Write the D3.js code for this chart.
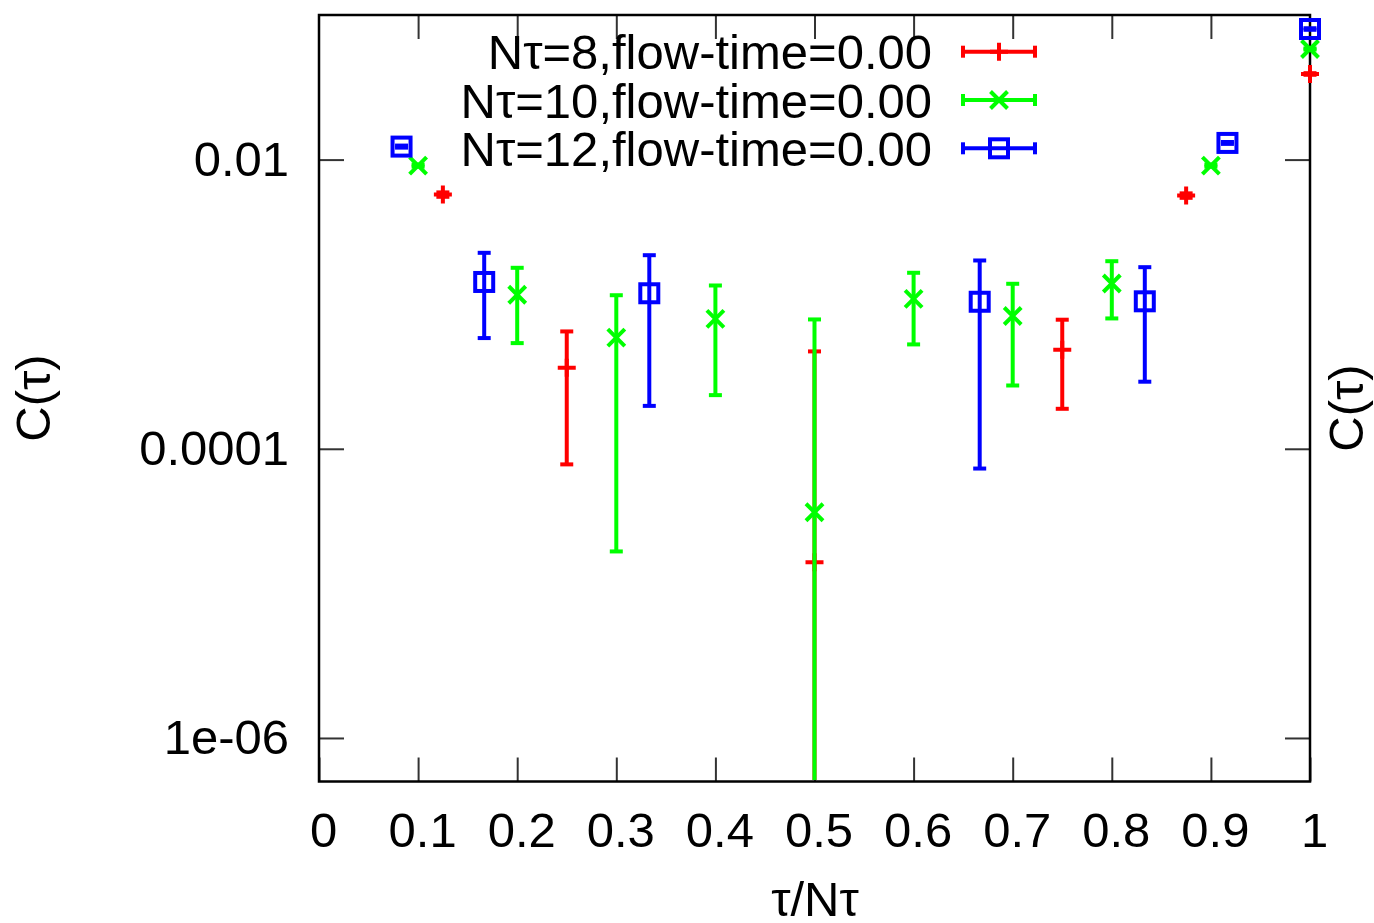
<!DOCTYPE html>
<html><head><meta charset="utf-8">
<script src="https://cdn.jsdelivr.net/npm/d3@7"></script>
<style>
body{margin:0;background:#fff}
svg{display:block}
text{font-family:"Liberation Sans",Arial,Helvetica,sans-serif;fill:#000}
</style>
</head><body>
<svg id="chart" width="1374" height="923"></svg>
<script>
// ---- data (null = point not drawn on log scale) ----
const xN8  = [0.125, 0.25, 0.375, 0.5, 0.625, 0.75, 0.875, 1.0];
const yN8  = [5.73e-3, 3.63e-4, null, 1.644e-5, null, 4.85e-4, 5.64e-3, 0.0391];
const eN8  = [2e-4, 2.85e-4, null, 4.55e-4, null, 2.96e-4, 2e-4, 5e-4];

const xN10 = [0.1, 0.2, 0.3, 0.4, 0.5, 0.6, 0.7, 0.8, 0.9, 1.0];
const yN10 = [9.09e-3, 1.1615e-3, 5.865e-4, 7.91e-4, 3.64e-5, 1.088e-3, 8.29e-4, 1.39e-3, 9.09e-3, 0.0582];
const eN10 = [1.5e-4, 6.235e-4, 5.67e-4, 5.56e-4, 7.48e-4, 5.61e-4, 5.55e-4, 5.93e-4, 1.5e-4, 5e-4];

const xN12 = [0.0833, 0.1667, 0.25, 0.3333, 0.4167, 0.5, 0.5833, 0.6667, 0.75, 0.8333, 0.9167, 1.0];
const yN12 = [0.0123, 1.4245e-3, null, 1.19e-3, null, null, null, 1.0395e-3, null, 1.047e-3, 0.01304, 0.0800];
const eN12 = [2e-4, 8.415e-4, null, 9.92e-4, null, null, null, 9.665e-4, null, 7.56e-4, 2e-4, 1e-3];

const seriesNames  = ["Nτ=8,flow-time=0.00", "Nτ=10,flow-time=0.00", "Nτ=12,flow-time=0.00"];
const seriesColors = ["#ff0000", "#00ff00", "#0000ff"];
const seriesShapes = ["plus", "cross", "square"];

const xTicks = [0, 0.1, 0.2, 0.3, 0.4, 0.5, 0.6, 0.7, 0.8, 0.9, 1];
const xTickLabels = ["0", "0.1", "0.2", "0.3", "0.4", "0.5", "0.6", "0.7", "0.8", "0.9", "1"];
const yTicks = [0.01, 1e-4, 1e-6];
const yTickLabels = ["0.01", "0.0001", "1e-06"];
const xLabel = "τ/Nτ";
const yLabel = "C(τ)";

// ---- layout ----
const L = 319, R = 1310, T = 15, B = 781.5;
const FS = 49;
const svg = d3.select("#chart");

const x = d3.scaleLinear().domain([0, 1]).range([L, R]);
const y = d3.scaleLog().domain([5e-7, 0.1]).range([B, T]);

// ---- axes (ticks inward, mirrored) ----
function styleAxis(g) {
  g.select(".domain").remove();
  g.selectAll(".tick line").attr("stroke", "#333").attr("stroke-width", 2);
  g.selectAll(".tick text").attr("font-size", FS).attr("font-family", '"Liberation Sans",Arial,sans-serif').attr("fill", "#000");
}
const gxB = svg.append("g").attr("transform", `translate(0,${B})`)
  .call(d3.axisBottom(x).tickValues(xTicks).tickSize(-24).tickPadding(31)
        .tickFormat((d, i) => xTickLabels[i]));
styleAxis(gxB);
gxB.selectAll(".tick text").attr("dx", 4);

const gxT = svg.append("g").attr("transform", `translate(0,${T})`)
  .call(d3.axisTop(x).tickValues(xTicks.filter(v => v > 0 && v < 1)).tickSize(-24).tickFormat(""));
styleAxis(gxT);

const gyL = svg.append("g").attr("transform", `translate(${L},0)`)
  .call(d3.axisLeft(y).tickValues(yTicks).tickSize(-25).tickPadding(30)
        .tickFormat((d, i) => yTickLabels[i]));
styleAxis(gyL);

const gyR = svg.append("g").attr("transform", `translate(${R},0)`)
  .call(d3.axisRight(y).tickValues(yTicks).tickSize(-25).tickFormat(""));
styleAxis(gyR);

// ---- markers ----
function drawMarker(g, shape, color, cx, cy) {
  if (shape === "plus") {
    g.append("path").attr("d", `M${cx-9},${cy}H${cx+9}M${cx},${cy-9}V${cy+9}`)
      .attr("stroke", color).attr("stroke-width", 4).attr("fill", "none");
  } else if (shape === "cross") {
    const s = 8.5;
    g.append("path").attr("d", `M${cx-s},${cy-s}L${cx+s},${cy+s}M${cx-s},${cy+s}L${cx+s},${cy-s}`)
      .attr("stroke", color).attr("stroke-width", 4).attr("fill", "none");
  } else {
    g.append("rect").attr("x", cx - 9).attr("y", cy - 9).attr("width", 18).attr("height", 18)
      .attr("stroke", color).attr("stroke-width", 4).attr("fill", "none");
  }
}

// ---- border (drawn under the data, as gnuplot does at the edges) ----
svg.append("rect").attr("x", L).attr("y", T).attr("width", R - L).attr("height", B - T)
  .attr("fill", "none").attr("stroke", "#000").attr("stroke-width", 2.5);

// ---- error-bar series ----
const allSeries = [
  {xs: xN8,  ys: yN8,  es: eN8},
  {xs: xN10, ys: yN10, es: eN10},
  {xs: xN12, ys: yN12, es: eN12}
];
const plot = svg.append("g");
const CAP = 6.5;
allSeries.forEach((s, si) => {
  const color = seriesColors[si];
  const g = plot.append("g");
  s.xs.forEach((xv, i) => {
    const v = s.ys[i];
    if (v == null) return;
    const e = s.es[i];
    const px = x(xv);
    const up = y(v + e);
    const lowVal = v - e;
    const inRange = lowVal > 0 && y(lowVal) <= B;
    const lo = inRange ? y(lowVal) : B - 1.5;
    g.append("line").attr("x1", px).attr("x2", px).attr("y1", up).attr("y2", lo)
      .attr("stroke", color).attr("stroke-width", 4);
    g.append("line").attr("x1", px - CAP).attr("x2", px + CAP).attr("y1", up).attr("y2", up)
      .attr("stroke", color).attr("stroke-width", 4);
    if (inRange) {
      g.append("line").attr("x1", px - CAP).attr("x2", px + CAP).attr("y1", lo).attr("y2", lo)
        .attr("stroke", color).attr("stroke-width", 4);
    }
    drawMarker(g, seriesShapes[si], color, px, y(v));
  });
});

// ---- legend ----
const legY = [51.7, 100, 148.3];
const leg = svg.append("g");
seriesNames.forEach((name, i) => {
  const cy = legY[i];
  leg.append("text").attr("x", 932).attr("y", cy + 17.5).attr("text-anchor", "end")
    .attr("font-size", FS).text(name);
  const c = seriesColors[i];
  leg.append("line").attr("x1", 963).attr("x2", 1035).attr("y1", cy).attr("y2", cy)
    .attr("stroke", c).attr("stroke-width", 4);
  [963, 1035].forEach(ex => leg.append("line").attr("x1", ex).attr("x2", ex)
    .attr("y1", cy - 6).attr("y2", cy + 6).attr("stroke", c).attr("stroke-width", 4));
  drawMarker(leg, seriesShapes[i], c, 999, cy);
});

// ---- axis labels ----
svg.append("text").attr("transform", "translate(50,398) rotate(-90)")
  .attr("text-anchor", "middle").attr("font-size", FS).text(yLabel);
svg.append("text").attr("transform", "translate(1363,408) rotate(-90)")
  .attr("text-anchor", "middle").attr("font-size", FS).text(yLabel);
svg.append("text").attr("x", 815).attr("y", 916).attr("text-anchor", "middle")
  .attr("font-size", FS).text(xLabel);
</script>
</body></html>
